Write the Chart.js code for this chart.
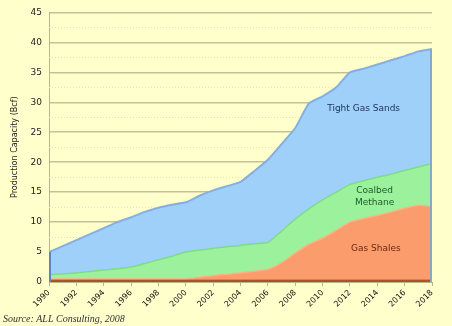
<!DOCTYPE html>
<html>
<head>
<meta charset="utf-8">
<script src="https://cdn.jsdelivr.net/npm/chart.js@4/dist/chart.umd.min.js"></script>
<style>
  html, body { margin: 0; padding: 0; background: #ffffcc; }
  #wrap { position: relative; width: 452px; height: 326px; }
</style>
</head>
<body>
<div id="wrap"><canvas id="chart" width="452" height="326"></canvas></div>
<script>
/* Gas production capacity by resource type, stacked areas (Bcf) */

const years = [
  1990, 1991, 1992, 1993, 1994, 1995, 1996, 1997, 1998, 1999,
  2000, 2001, 2002, 2003, 2004, 2005, 2006, 2007, 2008, 2009,
  2010, 2011, 2012, 2013, 2014, 2015, 2016, 2017, 2018
];

// thin base layer along the bottom
const other = [
  0.3, 0.3, 0.3, 0.3, 0.3, 0.3, 0.3, 0.3, 0.3, 0.3,
  0.3, 0.3, 0.3, 0.3, 0.3, 0.3, 0.3, 0.3, 0.3, 0.3,
  0.3, 0.3, 0.3, 0.3, 0.3, 0.3, 0.3, 0.3, 0.3
];

const gasShales = [
  0.2, 0.2, 0.2, 0.2, 0.2, 0.2, 0.2, 0.2, 0.2, 0.2,
  0.2, 0.5, 0.8, 1.0, 1.2, 1.5, 1.8, 2.9, 4.5, 6.0,
  7.0, 8.3, 9.7, 10.3, 10.8, 11.4, 12.0, 12.5, 12.3
];

const coalbedMethane = [
  0.7, 0.85, 1.0, 1.25, 1.5, 1.7, 2.0, 2.6, 3.2, 3.8,
  4.5, 4.5, 4.5, 4.6, 4.6, 4.6, 4.5, 5.3, 5.7, 5.9,
  6.4, 6.4, 6.3, 6.3, 6.4, 6.3, 6.3, 6.4, 7.2
];

const tightGasSands = [
  3.8, 4.65, 5.5, 6.25, 7.0, 7.8, 8.3, 8.6, 8.7, 8.6,
  8.3, 9.1, 9.7, 10.1, 10.6, 12.1, 13.8, 14.5, 15.2, 17.6,
  17.3, 17.5, 18.7, 18.7, 18.8, 19.0, 19.1, 19.3, 19.1
];

const yTicks = [0, 5, 10, 15, 20, 25, 30, 35, 40, 45];

const areaLabels = [
  { lines: ["Tight Gas Sands"], x: 2013.0, y: 28.9, color: "#1f2f55" },
  { lines: ["Coalbed", "Methane"], x: 2013.8, y: 14.3, color: "#1d5a2a" },
  { lines: ["Gas Shales"], x: 2013.9, y: 5.6, color: "#6a2a10" }
];

const pts = arr => arr.map((v, i) => ({ x: years[i], y: v }));

// dotted minor gridlines at half steps
const minorGrid = {
  id: "minorGrid",
  beforeDatasetsDraw(chart) {
    const { ctx, chartArea, scales } = chart;
    ctx.save();
    ctx.strokeStyle = "#e6e2bc";
    ctx.lineWidth = 1;
    ctx.setLineDash([1, 2]);
    for (let v = 2.5; v < 45; v += 5) {
      const y = Math.round(scales.y.getPixelForValue(v)) + 0.5;
      ctx.beginPath();
      ctx.moveTo(chartArea.left, y);
      ctx.lineTo(chartArea.right, y);
      ctx.stroke();
    }
    ctx.restore();
  }
};

// area names, edges and source note
const annotations = {
  id: "annotations",
  afterDatasetsDraw(chart) {
    const { ctx, scales } = chart;
    ctx.save();

    // closing edges of the stack at both ends
    const x0 = scales.x.getPixelForValue(years[0]);
    const x1 = scales.x.getPixelForValue(years[years.length - 1]);
    const last = years.length - 1;
    const total = i => other[i] + gasShales[i] + coalbedMethane[i] + tightGasSands[i];
    ctx.lineWidth = 2;
    ctx.strokeStyle = "#5f86b8";
    ctx.beginPath();
    ctx.moveTo(x0 + 1, scales.y.getPixelForValue(0));
    ctx.lineTo(x0 + 1, scales.y.getPixelForValue(total(0)));
    ctx.stroke();
    ctx.strokeStyle = "#8aa6c8";
    ctx.beginPath();
    ctx.moveTo(x1 - 1, scales.y.getPixelForValue(0));
    ctx.lineTo(x1 - 1, scales.y.getPixelForValue(total(last)));
    ctx.stroke();

    ctx.font = "9px 'DejaVu Sans'";
    ctx.textAlign = "center";
    ctx.textBaseline = "middle";
    areaLabels.forEach(l => {
      const cx = scales.x.getPixelForValue(l.x);
      const cy = scales.y.getPixelForValue(l.y);
      ctx.fillStyle = l.color;
      l.lines.forEach((t, k) => {
        ctx.fillText(t, cx, cy + (k - (l.lines.length - 1) / 2) * 12);
      });
    });

    ctx.font = "italic 10px 'Liberation Serif'";
    ctx.textAlign = "left";
    ctx.textBaseline = "alphabetic";
    ctx.fillStyle = "#333333";
    ctx.fillText("Source: ALL Consulting, 2008", 3, 322);
    ctx.restore();
  }
};

new Chart(document.getElementById("chart"), {
  type: "line",
  data: {
    datasets: [
      {
        label: "Other",
        data: pts(other),
        backgroundColor: "#b0502a",
        borderColor: "#a04020",
        borderWidth: 1,
        fill: "origin"
      },
      {
        label: "Gas Shales",
        data: pts(gasShales),
        backgroundColor: "#fa9c6c",
        borderColor: "#ffb184",
        borderWidth: 1.5,
        fill: "-1"
      },
      {
        label: "Coalbed Methane",
        data: pts(coalbedMethane),
        backgroundColor: "#9cf29c",
        borderColor: "#7edc86",
        borderWidth: 1.5,
        fill: "-1"
      },
      {
        label: "Tight Gas Sands",
        data: pts(tightGasSands),
        backgroundColor: "#9ed0fa",
        borderColor: "#86aee0",
        borderWidth: 2,
        fill: "-1"
      }
    ]
  },
  options: {
    responsive: false,
    animation: false,
    layout: { padding: { left: 10, right: 20, top: 11, bottom: 0 } },
    elements: {
      point: { radius: 0 },
      line: { tension: 0.15 }
    },
    plugins: {
      legend: { display: false },
      tooltip: { enabled: false }
    },
    scales: {
      x: {
        type: "linear",
        min: 1990,
        max: 2018,
        grid: { display: true, drawOnChartArea: false, color: "#b8b48c", tickLength: 4 },
        border: { color: "#b8b48c" },
        ticks: {
          stepSize: 2,
          autoSkip: false,
          minRotation: 45,
          maxRotation: 45,
          padding: 2,
          color: "#111111",
          font: { family: "DejaVu Sans", size: 8 },
          callback: v => String(v)
        },
        afterFit: s => { s.height = 44; }
      },
      y: {
        stacked: true,
        min: 0,
        max: 45,
        afterBuildTicks: s => { s.ticks = yTicks.map(v => ({ value: v })); },
        grid: { color: "#c4c09a", lineWidth: 1.5, drawTicks: false },
        border: { color: "#b8b48c" },
        ticks: {
          padding: 7,
          color: "#222222",
          font: { family: "DejaVu Sans", size: 9 }
        },
        title: {
          display: true,
          text: "Production Capacity (Bcf)",
          color: "#222222",
          font: { family: "DejaVu Sans", size: 8 },
          padding: { top: 0, bottom: 0 }
        },
        afterFit: s => { s.width = 39; }
      }
    }
  },
  plugins: [minorGrid, annotations]
});
</script>
</body>
</html>
